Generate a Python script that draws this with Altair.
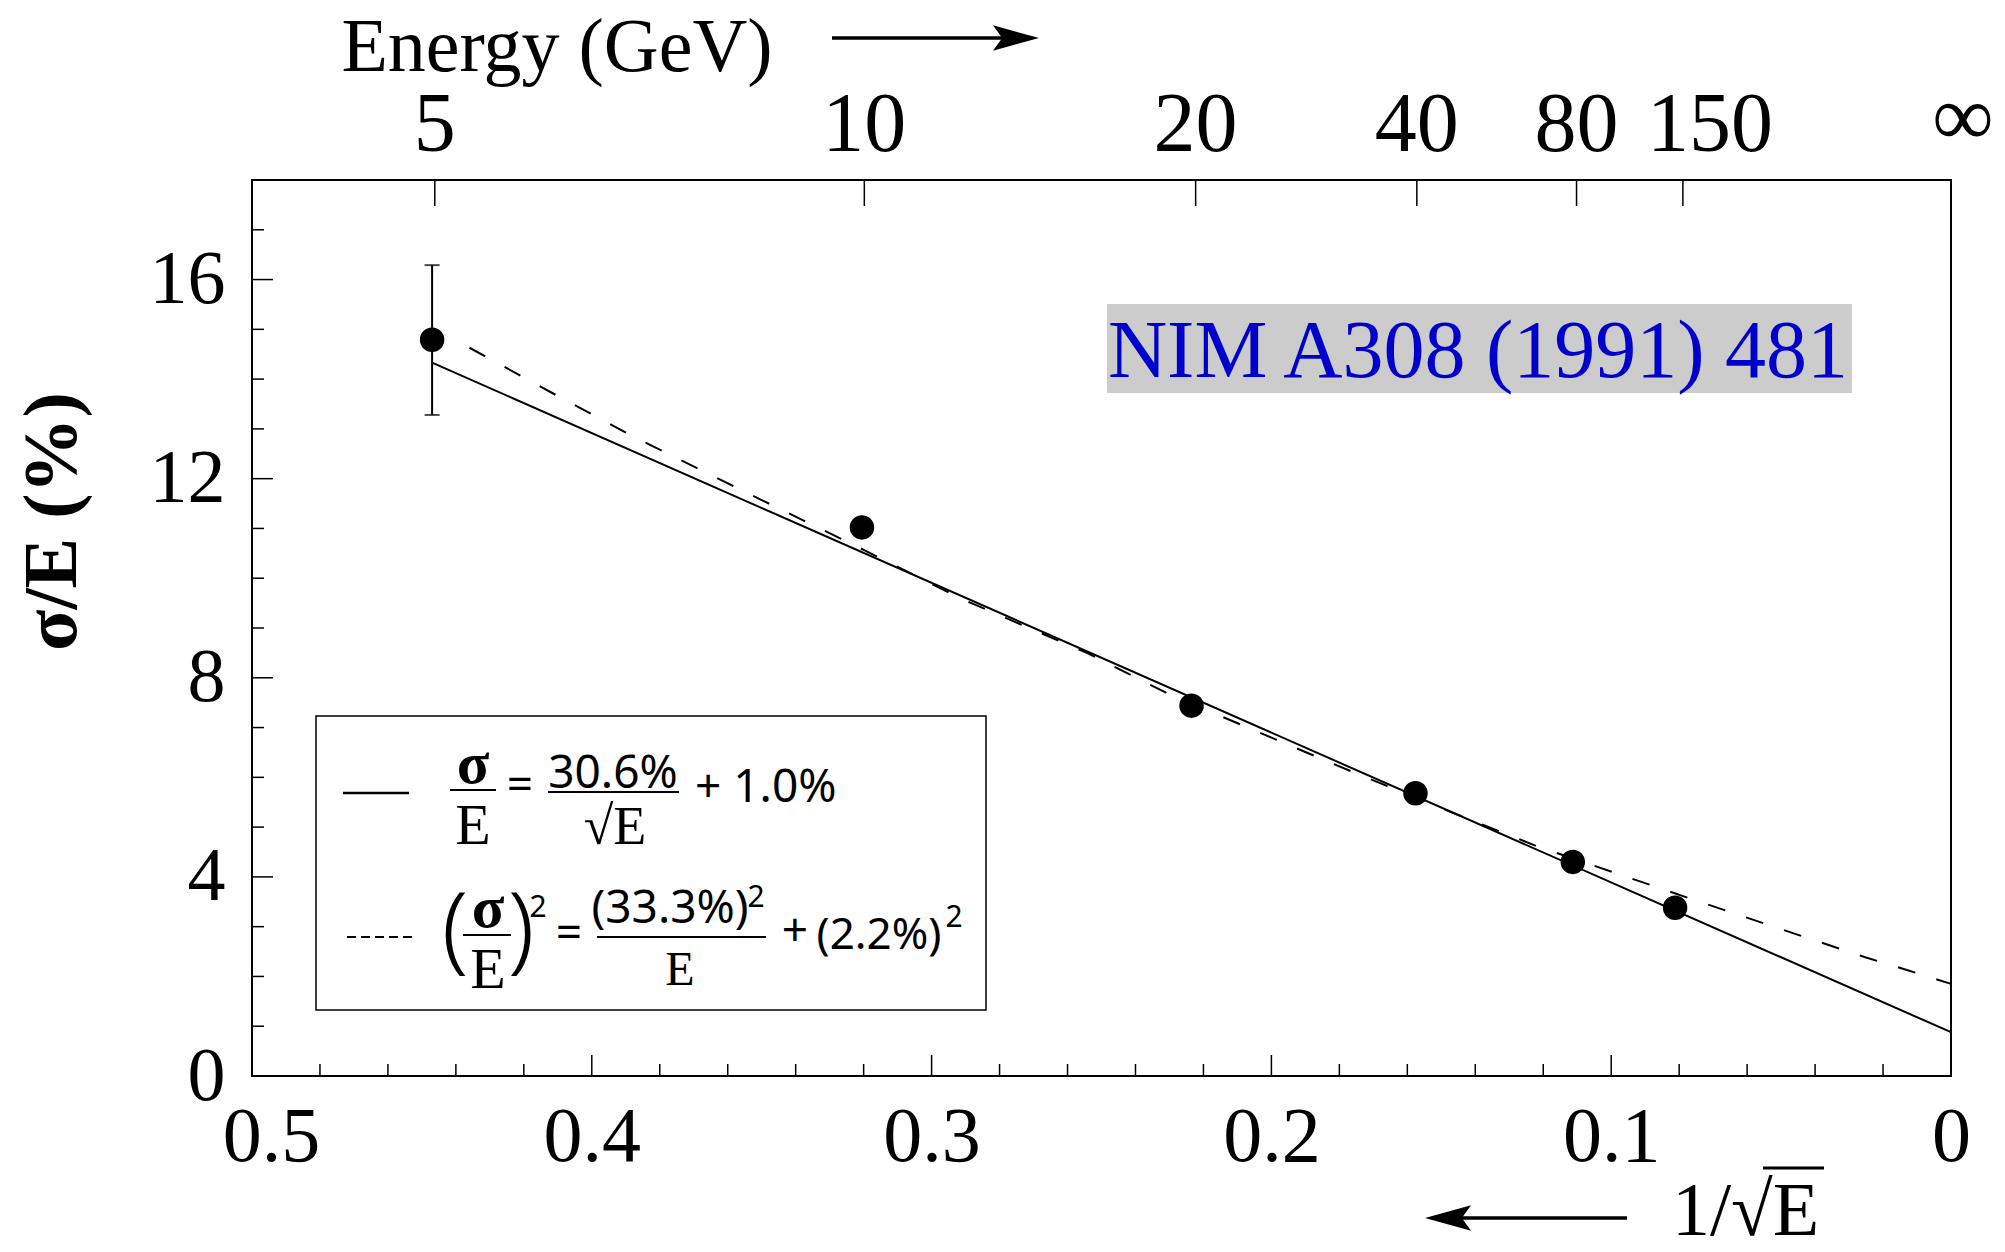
import altair as alt
import pandas as pd

# ---------------- data ----------------
inv_sqrt_E = [0.447, 0.3205, 0.2235, 0.1576, 0.1113, 0.0812]
sigma_over_E = [14.79, 11.02, 7.44, 5.68, 4.30, 3.38]

err_x = [0.447]
err_lo = [13.28]
err_hi = [16.29]

fit_lin_x = [0.447, 0.0]
fit_lin_y = [14.33, 0.88]

fit_quad_x = [0.436, 0.41, 0.387, 0.35, 0.32, 0.291, 0.254, 0.231, 0.207,
              0.18, 0.15, 0.122, 0.098, 0.074, 0.05, 0.025, 0.013, 0.0]
fit_quad_y = [14.63, 13.66, 12.82, 11.57, 10.57, 9.58, 8.49, 7.70, 7.00,
              6.22, 5.38, 4.62, 4.06, 3.50, 2.95, 2.38, 2.13, 1.85]

energy_labels = ["5", "10", "20", "40", "80"]
energy_pos = [0.4462, 0.3198, 0.2223, 0.1572, 0.1102]
energy_last_label = ["150"]
energy_last_pos = [0.0789]
infinity_label = ["\u221e"]
infinity_pos = [0.0]

x_major = [0.5, 0.4, 0.3, 0.2, 0.1, 0.0]
x_minor = [0.48, 0.46, 0.44, 0.42, 0.38, 0.36, 0.34, 0.32, 0.28, 0.26, 0.24,
           0.22, 0.18, 0.16, 0.14, 0.12, 0.08, 0.06, 0.04, 0.02]
y_major = [0, 4, 8, 12, 16]
y_minor = [1, 2, 3, 5, 6, 7, 9, 10, 11, 13, 14, 15, 17]

# ---------------- style ----------------
SERIF = "Liberation Serif"
SANS = "Noto Sans"
W, H = 1699, 896

xs = alt.Scale(domain=[0, 0.5], reverse=True, nice=False, zero=False)
ys = alt.Scale(domain=[0, 18], nice=False, zero=False)

pts = pd.DataFrame({"x": inv_sqrt_E, "y": sigma_over_E})
err = pd.DataFrame({"x": err_x, "lo": err_lo, "hi": err_hi})
lin = pd.DataFrame({"x": fit_lin_x, "y": fit_lin_y})
quad = pd.DataFrame({"x": fit_quad_x, "y": fit_quad_y})
top = pd.DataFrame({"pos": energy_pos, "lab": energy_labels})
top_last = pd.DataFrame({"pos": energy_last_pos, "lab": energy_last_label})
inf_df = pd.DataFrame({"pos": infinity_pos, "lab": infinity_label})
xmaj = pd.DataFrame({"v": x_major})
xmin = pd.DataFrame({"v": x_minor})
ymaj = pd.DataFrame({"v": y_major})
ymin = pd.DataFrame({"v": y_minor})
one = pd.DataFrame({"a": [0]})

NOX = alt.X("x:Q", scale=xs, axis=None)
NOY = alt.Y("y:Q", scale=ys, axis=None)
POSX = alt.X("pos:Q", scale=xs, axis=None)

layers = []

# bottom axis labels + major ticks
layers.append(
    alt.Chart(xmaj).mark_rule(color="black", strokeWidth=1.5).encode(
        x=alt.X("v:Q", scale=xs, axis=alt.Axis(
            orient="bottom", values=x_major, ticks=False, tickSize=0, domain=False,
            grid=False, title=None, labelFont=SERIF, labelFontSize=78,
            labelColor="black", labelBaseline="alphabetic", labelPadding=84,
            labelOverlap=False, labelFlush=False,
            labelOffset={"condition": {"test": "datum.value > 0.45", "value": 19}, "value": 0},
            labelExpr="datum.value < 0.0001 ? '0' : format(datum.value, '.1f')")),
        y=alt.value(H), y2=alt.value(H - 21)))
layers.append(
    alt.Chart(xmin).mark_rule(color="black", strokeWidth=1.5).encode(
        x=alt.X("v:Q", scale=xs, axis=None),
        y=alt.value(H), y2=alt.value(H - 12)))

# top (energy) scale: ticks and labels
layers.append(
    alt.Chart(pd.concat([top, top_last])).mark_rule(color="black", strokeWidth=1.5).encode(
        x=POSX, y=alt.value(0), y2=alt.value(26)))
layers.append(alt.Chart(top).mark_text(
    font=SERIF, fontSize=84, color="black", align="center", baseline="alphabetic").encode(
    x=POSX, y=alt.value(-29), text="lab:N"))
layers.append(alt.Chart(top_last).mark_text(
    font=SERIF, fontSize=84, color="black", align="center", baseline="alphabetic", dx=27).encode(
    x=POSX, y=alt.value(-29), text="lab:N"))
layers.append(alt.Chart(inf_df).mark_text(
    font=SERIF, fontSize=86, color="black", align="center", baseline="alphabetic", dx=12).encode(
    x=POSX, y=alt.value(-35), text="lab:N"))

# y axis labels + ticks
layers.append(
    alt.Chart(ymaj).mark_rule(color="black", strokeWidth=1.5).encode(
        y=alt.Y("v:Q", scale=ys, axis=alt.Axis(
            orient="left", values=y_major, ticks=False, tickSize=0, domain=False,
            grid=False, labelFont=SERIF, labelFontSize=76, labelColor="black",
            labelPadding=27, labelOverlap=False, labelFlush=False,
            title="\u03c3/E (%)", titleFont=SERIF, titleFontSize=76,
            titleFontWeight="bold", titleColor="black", titleAngle=270,
            titleX=-200, titleY=341, titleAlign="center", titleBaseline="middle")),
        x=alt.value(0), x2=alt.value(21)))
layers.append(
    alt.Chart(ymin).mark_rule(color="black", strokeWidth=1.5).encode(
        y=alt.Y("v:Q", scale=ys, axis=None),
        x=alt.value(0), x2=alt.value(12)))

# reference box
layers.append(alt.Chart(one).mark_rect(fill="#cccccc").encode(
    x=alt.value(855), x2=alt.value(1600), y=alt.value(124), y2=alt.value(213)))
layers.append(alt.Chart(one).mark_text(
    text="NIM A308 (1991) 481", font=SERIF, fontSize=82, color="#0000cc",
    align="center", baseline="alphabetic").encode(x=alt.value(1226), y=alt.value(197)))

# legend box
layers.append(alt.Chart(one).mark_rect(fill="white", stroke="black", strokeWidth=1.5).encode(
    x=alt.value(64), x2=alt.value(734), y=alt.value(536), y2=alt.value(830)))


def txt(s, x, y, size, font=SANS, weight="normal", align="center"):
    return alt.Chart(one).mark_text(
        text=s, font=font, fontSize=size, fontWeight=weight, align=align,
        baseline="alphabetic", color="black").encode(x=alt.value(x), y=alt.value(y))


def hline(x1, x2, y, w=2.0, dash=None):
    kw = dict(color="black", strokeWidth=w)
    if dash:
        kw["strokeDash"] = dash
    return alt.Chart(one).mark_rule(**kw).encode(
        x=alt.value(x1), x2=alt.value(x2), y=alt.value(y))


# legend row 1
layers += [
    hline(91, 157, 613, 2.5),
    txt("\u03c3", 221, 603, 60, SERIF, "bold"),
    hline(198, 244, 610, 2.0),
    txt("E", 221, 664, 58, SERIF),
    txt("=", 268, 620, 46),
    txt("30.6%", 361, 608, 46),
    hline(296, 427, 612, 2.0),
    txt("\u221aE", 363, 664, 54, SERIF),
    txt("+ 1.0%", 443, 622, 46, SANS, "normal", "left"),
]
# legend row 2
layers += [
    hline(95, 160, 757, 2.0, [9, 5]),
    txt("(", 203, 781, 96, SANS, 300),
    txt("\u03c3", 236, 747, 60, SERIF, "bold"),
    hline(211, 259, 755, 2.0),
    txt("E", 236, 808, 58, SERIF),
    txt(")", 269, 781, 96, SANS, 300),
    txt("2", 286, 737, 30),
    txt("=", 317, 768, 46),
    txt("(33.3%)", 418, 743, 46),
    txt("2", 504, 727, 30),
    hline(345, 514, 757, 2.0),
    txt("E", 428, 805, 48, SERIF),
    txt("+", 543, 766, 46),
    txt("(2.2%)", 627, 769, 44),
    txt("2", 702, 747, 30),
]

# fit curves
layers.append(alt.Chart(lin).mark_line(color="black", strokeWidth=2).encode(x=NOX, y=NOY))
layers.append(alt.Chart(quad).mark_line(color="black", strokeWidth=2, strokeDash=[18, 22]).encode(
    x=NOX, y=NOY))

# error bar
layers.append(alt.Chart(err).mark_rule(color="black", strokeWidth=2).encode(
    x=NOX, y=alt.Y("lo:Q", scale=ys, axis=None), y2="hi:Q"))
layers.append(alt.Chart(err).mark_tick(color="black", thickness=2, size=15, orient="horizontal").encode(
    x=NOX, y=alt.Y("lo:Q", scale=ys, axis=None)))
layers.append(alt.Chart(err).mark_tick(color="black", thickness=2, size=15, orient="horizontal").encode(
    x=NOX, y=alt.Y("hi:Q", scale=ys, axis=None)))

# data points
layers.append(alt.Chart(pts).mark_point(filled=True, color="black", size=600, opacity=1).encode(
    x=NOX, y=NOY))

# titles with arrows
HEAD_R = "M1,0 L-1,-0.55 L-0.6,0 L-1,0.55 Z"
HEAD_L = "M-1,0 L1,-0.55 L0.6,0 L1,0.55 Z"
layers += [
    txt("Energy (GeV)", 305, -109, 76, SERIF),
    hline(580, 760, -142, 3.5),
    alt.Chart(one).mark_point(shape=HEAD_R, filled=True, color="black", size=2116, opacity=1).encode(
        x=alt.value(764), y=alt.value(-142)),
    hline(1200, 1375, 1038, 3.5),
    alt.Chart(one).mark_point(shape=HEAD_L, filled=True, color="black", size=2116, opacity=1).encode(
        x=alt.value(1196), y=alt.value(1038)),
    txt("1/\u221aE", 1420, 1055, 76, SERIF, "normal", "left"),
    hline(1511, 1572, 988, 3.0),
]

chart = alt.layer(*layers).resolve_axis(x="independent", y="independent").properties(
    width=W, height=H,
    padding={"left": 252, "top": 180, "right": 54, "bottom": 176},
    autosize=alt.AutoSizeParams(type="none"),
    background="white",
).configure_view(stroke="black", strokeWidth=2)

chart.save("out.html", embed_options={"renderer": "svg", "actions": False})
